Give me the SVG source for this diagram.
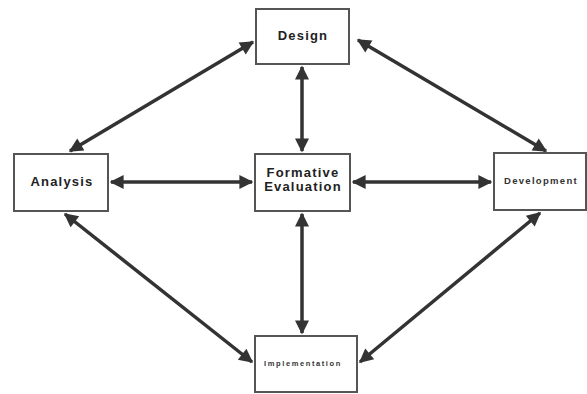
<svg xmlns="http://www.w3.org/2000/svg" width="587" height="394" viewBox="0 0 587 394">
<defs>
<marker id="ah" viewBox="0 0 10 10" refX="9" refY="5" markerWidth="5" markerHeight="4" markerUnits="strokeWidth" orient="auto-start-reverse">
<path d="M0,0 L10,5 L0,10 z" fill="#333"/>
</marker>
<style>
.box{fill:#fff;stroke:#555;stroke-width:2}
.lbl{font-family:"Liberation Sans",Arial,sans-serif;font-weight:bold;font-size:13px;letter-spacing:1.2px;fill:#222;text-anchor:middle}
.sm{font-family:"Liberation Sans",Arial,sans-serif;font-weight:bold;fill:#333;text-anchor:middle}
.c{stroke:#333;stroke-width:3.5;fill:none;marker-start:url(#ah);marker-end:url(#ah)}
</style>
</defs>
<rect width="587" height="394" fill="#fff"/>
<g id="connectors">
<line class="c" x1="253" y1="42" x2="70" y2="151"/>
<line class="c" x1="358" y1="40" x2="546" y2="151"/>
<line class="c" x1="302" y1="67" x2="302" y2="151"/>
<line class="c" x1="111" y1="182" x2="252" y2="182"/>
<line class="c" x1="353" y1="182" x2="491" y2="182"/>
<line class="c" x1="302" y1="214" x2="302" y2="333"/>
<line class="c" x1="65" y1="214" x2="252" y2="362"/>
<line class="c" x1="540" y1="213" x2="360" y2="362"/>
</g>
<g id="design">
<rect class="box" x="256" y="9" width="93" height="55"/>
<text class="lbl" x="303" y="40">Design</text>
</g>
<g id="analysis">
<rect class="box" x="14" y="154" width="94" height="57"/>
<text class="lbl" x="62" y="186">Analysis</text>
</g>
<g id="formative">
<rect class="box" x="255" y="154" width="95" height="57"/>
<text class="lbl" x="303" y="177">Formative</text>
<text class="lbl" x="303" y="191">Evaluation</text>
</g>
<g id="development">
<rect class="box" x="494" y="153" width="92" height="57"/>
<text class="sm" x="541" y="184" font-size="9.5" letter-spacing="1.3">Development</text>
</g>
<g id="implementation">
<rect class="box" x="255" y="336" width="102" height="56"/>
<text class="sm" x="303" y="366" font-size="7.5" letter-spacing="1.6">Implementation</text>
</g>
</svg>
